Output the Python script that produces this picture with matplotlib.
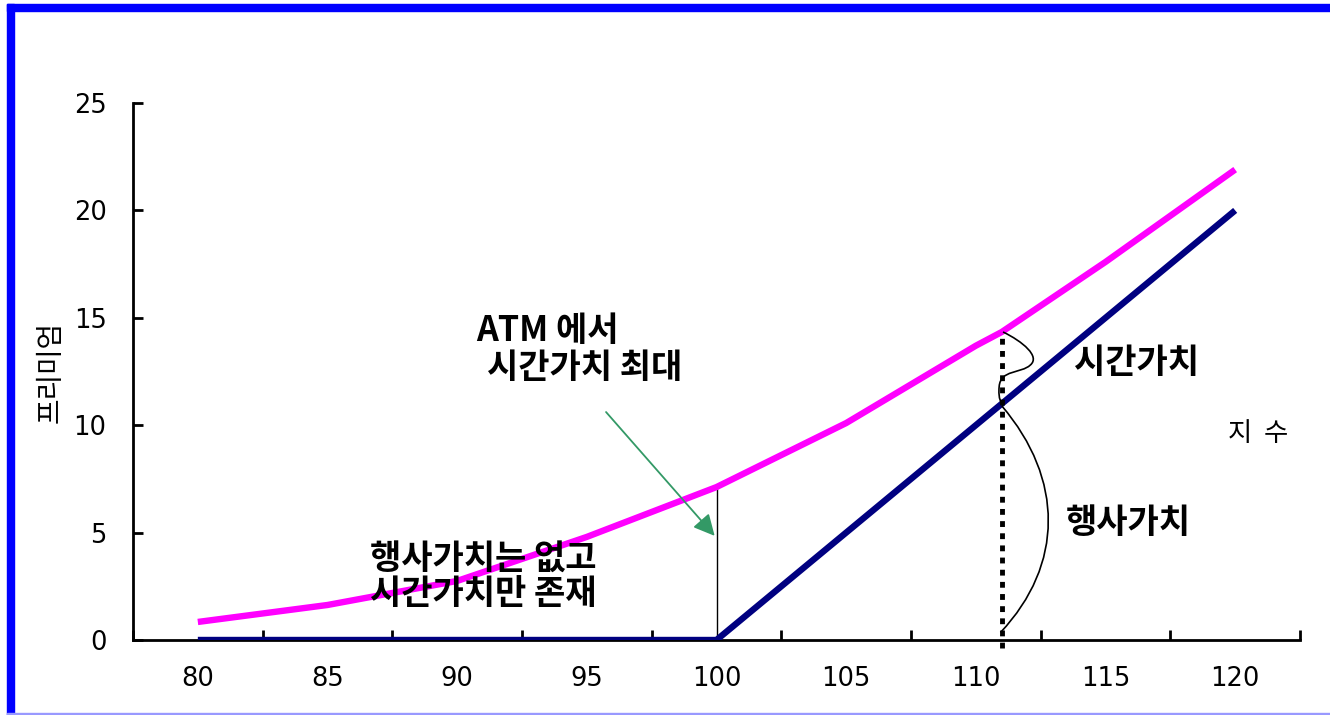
import matplotlib
matplotlib.use("Agg")
import matplotlib.pyplot as plt
from matplotlib.path import Path
from matplotlib.patches import PathPatch, Rectangle, FancyArrowPatch

# ---- data ----
premium_x = [80, 85, 90, 95, 100, 105, 110, 111, 115, 120]
premium_y = [0.84, 1.63, 2.75, 4.8, 7.12, 10.1, 13.7, 14.34, 17.6, 21.9]
intrinsic_x = [80, 100, 120]
intrinsic_y = [0, 0, 20]
x_labels = [80, 85, 90, 95, 100, 105, 110, 115, 120]
y_ticks = [0, 5, 10, 15, 20, 25]
spot_marker = 111
atm_strike = 100

KR = ['Noto Sans CJK KR', 'DejaVu Sans']

fig = plt.figure(figsize=(13.3, 7.15), dpi=100)
W, H = 1330, 715
ax = fig.add_axes([133 / W, 1 - 640 / H, (1300 - 133) / W, (640 - 103) / H])

ax.set_xlim(77.5, 122.5)
ax.set_ylim(0, 25)

# lines
ax.plot(intrinsic_x, intrinsic_y, color='#000080', lw=4.6, solid_capstyle='butt', zorder=4)
ax.plot(premium_x, premium_y, color='#ff00ff', lw=4.6, solid_capstyle='butt', zorder=4)

# thin vertical at ATM
ax.plot([atm_strike, atm_strike], [0, premium_y[premium_x.index(atm_strike)]],
        color='black', lw=1.0, zorder=3)

# dotted vertical at spot
ax.plot([spot_marker, spot_marker], [-0.35, premium_y[premium_x.index(spot_marker)]],
        color='black', lw=3.5, dashes=(1.2, 1.3), clip_on=False, zorder=5)

# braces
upper = [(111.05, 14.34), (111.8, 13.9), (112.5, 13.2), (112.1, 12.8),
         (111.75, 12.4), (110.95, 12.6), (110.9, 11.8),
         (110.85, 11.2), (111.0, 11.0), (111.05, 10.9)]
codes_u = [Path.MOVETO] + [Path.CURVE4] * 9
ax.add_patch(PathPatch(Path(upper, codes_u), fill=False, lw=1.2, color='black', zorder=6))
lower = [(111.0, 10.9), (113.4, 7.5), (113.4, 3.5), (110.95, 0.35)]
codes_l = [Path.MOVETO] + [Path.CURVE4] * 3
ax.add_patch(PathPatch(Path(lower, codes_l), fill=False, lw=1.2, color='black', zorder=6))

# green arrow
ax.add_patch(FancyArrowPatch((95.67, 10.71), (100.0, 4.75), arrowstyle='-|>',
                             mutation_scale=32, color='#339966', lw=1.3, zorder=6))

# texts
FS = 24.5
ax.text(90.73, 14.43, 'ATM 에서', family=KR, fontsize=FS, fontweight='bold',
        ha='left', va='center')
ax.text(91.15, 12.67, '시간가치 최대', family=KR, fontsize=FS, fontweight='bold',
        ha='left', va='center')
ax.text(116.18, 12.9, '시간가치', family=KR, fontsize=FS, fontweight='bold',
        ha='center', va='center')
ax.text(115.87, 5.45, '행사가치', family=KR, fontsize=FS, fontweight='bold',
        ha='center', va='center')
ax.text(120.88, 9.6, '지  수', family=KR, fontsize=19, ha='center', va='center')
ax.text(91.0, 2.98, '행사가치는 없고\n시간가치만 존재', family=KR, fontsize=FS,
        fontweight='bold', ha='center', va='center', linespacing=1.0, zorder=7)

# axes styling
for s in ['top', 'right']:
    ax.spines[s].set_visible(False)
for s in ['left', 'bottom']:
    ax.spines[s].set_linewidth(2.0)
    ax.spines[s].set_zorder(2)

ax.set_yticks(y_ticks)
ax.set_yticklabels([str(v) for v in y_ticks])
ax.tick_params(axis='y', direction='in', length=7, width=2, pad=19,
               labelsize=18.5)
ax.set_xticks(x_labels)
ax.set_xticklabels([str(v) for v in x_labels])
ax.tick_params(axis='x', which='major', length=0, pad=19, labelsize=18.5)
ax.set_xticks([77.5 + 5 * k for k in range(10)], minor=True)
ax.tick_params(axis='x', which='minor', direction='in', length=7, width=2)
for lbl in ax.get_xticklabels() + ax.get_yticklabels():
    lbl.set_family('DejaVu Sans')

fig.text(51 / W, 1 - 372 / H, '프리미엄', family=KR, fontsize=20, rotation=90,
         ha='center', va='center')

# blue frame
fig.patches.append(Rectangle((7 / W, 0), 7 / W, 1 - 4 / H, transform=fig.transFigure,
                             color='#0000ff', zorder=10))
fig.patches.append(Rectangle((7 / W, 1 - 11 / H), 1, 7 / H, transform=fig.transFigure,
                             color='#0000ff', zorder=10))
fig.patches.append(Rectangle((7 / W, 0), 1, 2 / H, transform=fig.transFigure,
                             color='#9999ff', zorder=10))

fig.savefig('out.png', dpi=100)
